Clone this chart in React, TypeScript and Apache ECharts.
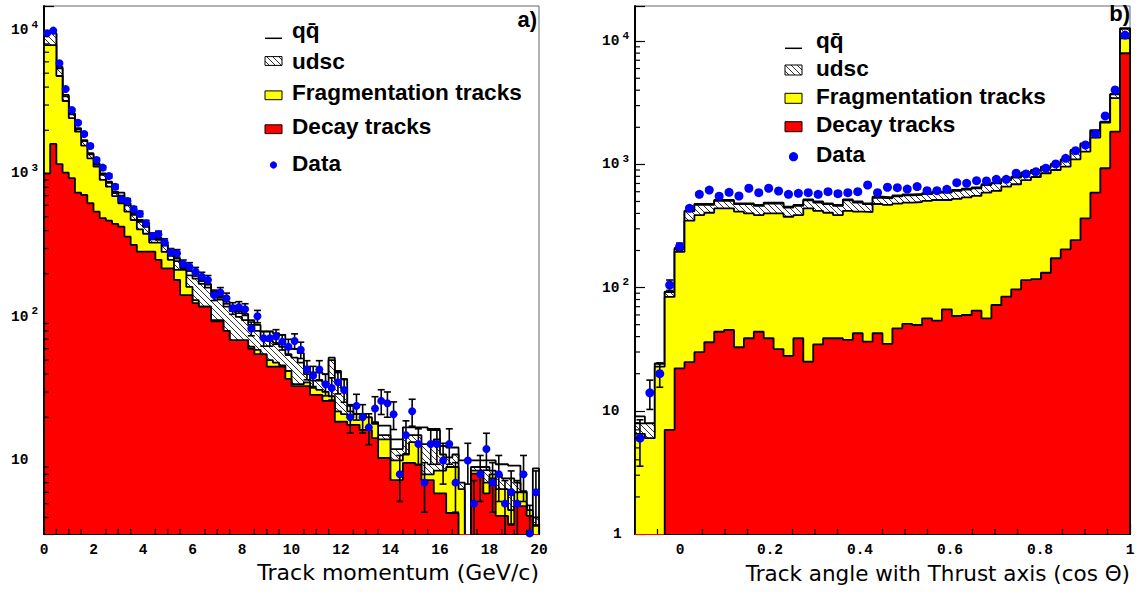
import React, { useEffect, useRef } from "react";
import * as echarts from "echarts";

// ---------------- Panel a) : track momentum, 80 bins of 0.25 GeV/c ----------------
const MOM_START = 0;
const MOM_BIN = 0.25;
const MOM_Y_MIN = 3.07;
const MOM_Y_MAX = 14700;

const MOM_QQ = [
  9530, 9500, 5540, 3525, 2630, 2066, 1710, 1383, 1177, 1003,
  877, 746, 735, 620, 528, 474, 440, 365, 355, 330,
  290, 255, 228, 210, 200, 180, 170, 150, 140, 128,
  120, 110, 105, 95, 88, 79, 79, 77, 75, 61,
  60, 56, 45, 41, 41, 40, 52, 42, 37, 24,
  21, 21, 18.5, 18.5, 17.5, 17.5, 14, 14, 17, 17,
  17, 17, 16.3, 16.3, 12.6, 12.3, 12.3, 10, 10, 10,
  10, 10, 10, 9.4, 9.4, 9.2, 9.2, 6.1, 4.1, 8.8,
];
const MOM_UDSC = [
  9500, 9450, 5400, 3450, 2580, 2030, 1680, 1360, 1150, 980,
  860, 730, 700, 600, 515, 460, 425, 350, 345, 318,
  280, 245, 220, 195, 185, 170, 160, 140, 132, 118,
  110, 100, 95, 88, 80, 70, 68, 66, 62, 55,
  52, 48, 40, 36, 36, 34, 50, 36, 32, 22,
  19, 19, 17, 16, 15, 15, 12, 12, 15, 15,
  15, 13, 13, 14, 11, 10.5, 11, 7, 3, 9,
  9, 9, 8.5, 8, 7.5, 7.5, 7, 5, 3.5, 4,
];
const MOM_FRAG = [
  7850, 7850, 4780, 3200, 2430, 1955, 1563, 1276, 1115, 902,
  809, 696, 620, 542, 474, 408, 380, 330, 330, 284,
  250, 213, 213, 162, 131, 118, 118, 95, 95, 80,
  67, 67, 67, 62, 59, 50, 50, 48, 46, 42,
  34, 34, 35, 32, 31, 30, 28, 22, 21, 20,
  21, 21, 20, 18, 14, 14, 10, 10, 11, 13.4,
  13.4, 8, 8, 8.5, 8.5, 9, 9, 6.3, 1, 8.5,
  8.5, 7, 8, 6.3, 6.3, 4.5, 6, 6, 4.5, 3.5,
];
const MOM_DECAY = [
  1000, 1607, 1163, 1013, 927, 735, 708, 620, 542, 488,
  469, 445, 426, 363, 318, 285, 285, 285, 250, 218,
  218, 181, 142, 142, 125, 118, 118, 93, 93, 80,
  69, 69, 69, 60, 55, 55, 45, 45, 45, 37,
  33, 33, 33, 28.6, 28.6, 26, 26, 18.6, 18.6, 17.7,
  17.7, 16.3, 16.3, 14.3, 10.4, 10.4, 7.3, 7.3, 9.6, 9.6,
  9.3, 7.3, 7.3, 5.9, 5.9, 4.3, 4.3, 1, 1, 8.1,
  8.1, 5.9, 7.5, 4.1, 4.1, 3.6, 4.8, 4.8, 4.1, 1,
];
const MOM_DATA: (number | null)[] = [
  9500, 9900, 5860, 3880, 2770, 2260, 1884, 1556, 1242, 1099,
  961, 809, 661, 643, 564, 523, 450, 366, 377, 332,
  283, 278, 234, 224, 207, 191, 181, 142, 148, 135,
  115, 117, 113, 83, 101, 71, 71, 73, 67, 62,
  68, 59, 43, 39, 43, 34, 32, 35, 31, 20,
  24, 20, 17, 23, 26, 25, 21, 8, 15, 22,
  13, 7, 13, 13, 10, 13, 7, null, 10, 5,
  8, 12, 7, 8, 5, 6, 5, 8, 3.1, 6,
];

// ---------------- Panel b) : cos(theta) w.r.t. thrust axis, 50 bins of 0.022 ----------------
const ANG_START = -0.1;
const ANG_BIN = 0.022;
const ANG_Y_MIN = 1;
const ANG_Y_MAX = 19300;

const ANG_QQ = [
  9, 7.9, 24.3, 92.6, 210, 421, 477, 477, 514, 514,
  483, 483, 468, 490, 490, 454, 468, 520, 500, 483,
  468, 520, 500, 483, 547, 540, 560, 570, 575, 585,
  600, 600, 620, 635, 650, 690, 710, 760, 794, 860,
  900, 958, 1010, 1100, 1309, 1483, 1900, 2222, 3726, 12730,
];
const ANG_UDSC = [
  7.9, 7.9, 24, 92, 205, 415, 470, 470, 505, 505,
  475, 475, 460, 480, 480, 445, 460, 510, 490, 475,
  460, 510, 490, 475, 535, 530, 550, 560, 565, 575,
  590, 590, 610, 625, 640, 680, 700, 745, 780, 845,
  885, 940, 990, 1080, 1290, 1460, 1870, 2200, 3700, 12600,
];
const ANG_FRAG = [
  6.5, 6, 22.8, 84, 195, 349, 388, 405, 440, 440,
  413, 400, 388, 400, 400, 376, 388, 440, 420, 405,
  388, 420, 413, 410, 477, 470, 480, 490, 495, 505,
  514, 514, 525, 540, 555, 590, 610, 660, 690, 745,
  790, 847, 900, 960, 1099, 1268, 1650, 2180, 3444, 10550,
];
const ANG_DECAY = [
  0, 0, 0, 7, 22.1, 24.8, 29.9, 36, 43.8, 45.3,
  32.8, 38.8, 43.8, 38.8, 31.7, 27.9, 38.8, 25, 34.6, 38.8,
  38.8, 37.6, 42.6, 36.4, 42.6, 34.9, 46.7, 50.7, 49.7, 56.3,
  53.9, 66.6, 58.8, 59.9, 65, 56.3, 72.2, 84.4, 96.8, 115,
  117, 132, 173, 204, 243, 365, 589, 930, 1844, 7980,
];
const ANG_DATA: (number | null)[] = [
  6, 14, 20, 105, 215, 440, 572, 619, 552, 593,
  554, 640, 589, 640, 608, 572, 582, 589, 572, 601,
  578, 589, 600, 680, 589, 652, 647, 631, 660, 612,
  612, 628, 711, 702, 738, 733, 757, 757, 847, 836,
  873, 930, 1007, 1120, 1292, 1437, 1766, 2472, 4018, 11220,
];

// ---------------- Texts ----------------
const LEGEND_LABELS = ["qq\u0304", "udsc", "Fragmentation tracks", "Decay tracks", "Data"];
const PANEL_TAGS = ["a)", "b)"];
const X_TITLES = ["Track momentum (GeV/c)", "Track angle with Thrust axis (cos \u0398)"];

// ---------------- Helpers ----------------
const FLOOR = 1e-3;
const HATCH_SVG =
  "<svg xmlns='http://www.w3.org/2000/svg' width='6' height='6'>" +
  "<rect width='6' height='6' fill='white'/>" +
  "<path d='M0,0 L6,6 M-1,5 L1,7 M5,-1 L7,1' stroke='black' stroke-width='0.8'/></svg>";
const HATCH = {
  image: "data:image/svg+xml;charset=utf-8," + encodeURIComponent(HATCH_SVG),
  repeat: "repeat",
  imageWidth: 6,
  imageHeight: 6,
};

function stepPoints(start: number, w: number, vals: number[]) {
  const pts: number[][] = [[start, FLOOR]];
  vals.forEach((v, i) => {
    const y = v > 0 ? v : FLOOR;
    pts.push([start + i * w, y], [start + (i + 1) * w, y]);
  });
  pts.push([start + vals.length * w, FLOOR]);
  return pts;
}
function centers(start: number, w: number, vals: (number | null)[]) {
  const out: number[][] = [];
  vals.forEach((v, i) => {
    if (v != null) out.push([start + (i + 0.5) * w, v]);
  });
  return out;
}
function errBars(start: number, w: number, vals: (number | null)[]) {
  const out: number[][] = [];
  vals.forEach((v, i) => {
    if (v == null) return;
    const e = Math.sqrt(v);
    out.push([start + (i + 0.5) * w, v, v - e > 0 ? v - e : FLOOR, v + e]);
  });
  return out;
}
function logMinor(min: number, max: number) {
  const out: number[] = [];
  for (let k = -1; k <= 5; k++) {
    for (let m = 2; m <= 9; m++) {
      const v = m * Math.pow(10, k);
      if (v > min && v < max) out.push(v);
    }
  }
  return out;
}
function linMinor(from: number, to: number, step: number, major: number) {
  const out: number[] = [];
  const n = Math.round((to - from) / step);
  for (let i = 0; i <= n; i++) {
    const v = +(from + i * step).toFixed(4);
    const r = v / major;
    if (Math.abs(r - Math.round(r)) > 1e-6) out.push(v);
  }
  return out;
}

const MONO = "Liberation Mono";
const SANS = "Liberation Sans";

function logLabel(v: number) {
  const l = Math.log10(v);
  const e = Math.round(l);
  if (Math.abs(l - e) > 1e-6) return "";
  if (e === 0) return "{o|1}";
  if (e === 1) return "{b|10}";
  return "{b|10}{s|" + e + "}";
}
const logRich = {
  b: { fontFamily: MONO, fontWeight: "bold", fontSize: 14.5, color: "#000" },
  s: { fontFamily: MONO, fontWeight: "bold", fontSize: 11, color: "#000", padding: [0, 0, 11, 3] },
  o: { fontFamily: MONO, fontWeight: "bold", fontSize: 14.5, color: "#000", padding: [0, 0, 0, 11] },
};

function xAxisCfg(grid: number, min: number, max: number, extra: any) {
  return {
    type: "value",
    gridIndex: grid,
    min,
    max,
    axisLine: { show: true, onZero: false, lineStyle: { color: "#000", width: 2 } },
    axisTick: { show: true, inside: true, length: 10, lineStyle: { color: "#000", width: 1.2 } },
    axisLabel: { fontFamily: MONO, fontWeight: "bold", fontSize: 14.5, color: "#000", margin: 8 },
    splitLine: { show: false },
    ...extra,
  };
}
function yAxisCfg(grid: number, min: number, max: number) {
  return {
    type: "log",
    logBase: 10,
    gridIndex: grid,
    min,
    max,
    axisLine: { show: true, onZero: false, lineStyle: { color: "#000", width: 2 } },
    axisTick: { show: true, inside: true, length: 10, lineStyle: { color: "#000", width: 1.2 } },
    axisLabel: { formatter: logLabel, rich: logRich, align: "left", margin: 33 },
    splitLine: { show: false },
    minorTick: { show: false },
  };
}

function histSeries(grid: number, pts: number[][], fill: any, z: number) {
  return {
    type: "line",
    xAxisIndex: grid,
    yAxisIndex: grid,
    data: pts,
    showSymbol: false,
    symbol: "none",
    clip: true,
    silent: true,
    z,
    lineStyle: { color: "#000", width: 1.8 },
    areaStyle: { color: fill, opacity: 1, origin: "start" },
  };
}
function minorYSeries(grid: number, xmin: number, vals: number[]) {
  return {
    type: "custom",
    xAxisIndex: grid,
    yAxisIndex: grid,
    silent: true,
    z: 10,
    data: vals.map((v) => [xmin, v]),
    renderItem: (_p: any, api: any) => {
      const p = api.coord([api.value(0), api.value(1)]);
      return {
        type: "line",
        shape: { x1: p[0], y1: p[1], x2: p[0] + 5, y2: p[1] },
        style: { stroke: "#000", lineWidth: 1.2 },
      };
    },
  };
}
function minorXSeries(grid: number, ymin: number, vals: number[]) {
  return {
    type: "custom",
    xAxisIndex: grid,
    yAxisIndex: grid,
    silent: true,
    z: 10,
    data: vals.map((v) => [v, ymin]),
    renderItem: (_p: any, api: any) => {
      const p = api.coord([api.value(0), api.value(1)]);
      return {
        type: "line",
        shape: { x1: p[0], y1: p[1], x2: p[0], y2: p[1] - 5 },
        style: { stroke: "#000", lineWidth: 1.2 },
      };
    },
  };
}
function errSeries(grid: number, data: number[][]) {
  return {
    type: "custom",
    xAxisIndex: grid,
    yAxisIndex: grid,
    silent: true,
    clip: true,
    z: 6,
    data,
    renderItem: (_p: any, api: any) => {
      const x = api.value(0);
      const t = api.coord([x, api.value(3)]);
      const b = api.coord([x, api.value(2)]);
      const st = { stroke: "#000", lineWidth: 1.6 };
      return {
        type: "group",
        children: [
          { type: "line", shape: { x1: t[0], y1: t[1], x2: b[0], y2: b[1] }, style: st },
          { type: "line", shape: { x1: t[0] - 3.5, y1: t[1], x2: t[0] + 3.5, y2: t[1] }, style: st },
          { type: "line", shape: { x1: b[0] - 3.5, y1: b[1], x2: b[0] + 3.5, y2: b[1] }, style: st },
        ],
      };
    },
  };
}
function dataSeries(grid: number, data: number[][], size: number) {
  return {
    type: "scatter",
    xAxisIndex: grid,
    yAxisIndex: grid,
    data,
    symbol: "circle",
    symbolSize: size,
    silent: true,
    z: 7,
    itemStyle: { color: "#0000ff", opacity: 1 },
  };
}

function txt(x: number, y: number, text: string, font: string, align = "left") {
  return {
    type: "text",
    x,
    y,
    silent: true,
    z: 100,
    style: {
      text,
      font,
      fill: "#000",
      textAlign: align,
      align,
      textVerticalAlign: "middle",
      verticalAlign: "middle",
    },
  };
}
function legendGraphics(symX: number, textX: number, ys: number[], symYs: number[], boxH: number, dotR: number) {
  const f = "bold 22.6px '" + SANS + "'";
  const w = 17;
  const els: any[] = [];
  els.push({ type: "line", silent: true, z: 100, shape: { x1: symX, y1: symYs[0], x2: symX + w, y2: symYs[0] }, style: { stroke: "#000", lineWidth: 1.5 } });
  els.push({ type: "rect", silent: true, z: 100, shape: { x: symX, y: symYs[1] - boxH / 2, width: w, height: boxH }, style: { fill: HATCH, stroke: "#000", lineWidth: 1 } });
  els.push({ type: "rect", silent: true, z: 100, shape: { x: symX, y: symYs[2] - boxH / 2, width: w, height: boxH }, style: { fill: "#ffff00", stroke: "#000", lineWidth: 1 } });
  els.push({ type: "rect", silent: true, z: 100, shape: { x: symX, y: symYs[3] - boxH / 2, width: w, height: boxH }, style: { fill: "#ff0000", stroke: "#000", lineWidth: 1 } });
  els.push({ type: "circle", silent: true, z: 100, shape: { cx: symX + w / 2, cy: symYs[4], r: dotR }, style: { fill: "#0000ff" } });
  LEGEND_LABELS.forEach((t, i) => els.push(txt(textX, ys[i], t, f)));
  return els;
}

export default function App() {
  const ref = useRef<HTMLDivElement>(null);
  useEffect(() => {
    if (!ref.current) return;
    const chart = echarts.init(ref.current, undefined, { renderer: "svg" });
    const momEnd = MOM_START + MOM_QQ.length * MOM_BIN;
    const angEnd = ANG_START + ANG_QQ.length * ANG_BIN;

    const option: any = {
      animation: false,
      backgroundColor: "#fff",
      grid: [
        { left: 44, top: 6, width: 495, height: 528, show: true, borderColor: "#666", borderWidth: 1, backgroundColor: "transparent" },
        { left: 635, top: 6, width: 495, height: 528, show: true, borderColor: "#666", borderWidth: 1, backgroundColor: "transparent" },
      ],
      xAxis: [
        xAxisCfg(0, MOM_START, momEnd, { interval: 2 }),
        xAxisCfg(1, ANG_START, angEnd, {
          axisLabel: {
            fontFamily: MONO,
            fontWeight: "bold",
            fontSize: 14.5,
            color: "#000",
            margin: 8,
            formatter: (v: number) => (Math.abs(v - ANG_START) < 1e-9 ? "" : String(+v.toFixed(2))),
          },
        }),
      ],
      yAxis: [yAxisCfg(0, MOM_Y_MIN, MOM_Y_MAX), yAxisCfg(1, ANG_Y_MIN, ANG_Y_MAX)],
      series: [
        histSeries(0, stepPoints(MOM_START, MOM_BIN, MOM_QQ), "#ffffff", 2),
        histSeries(0, stepPoints(MOM_START, MOM_BIN, MOM_UDSC), HATCH, 3),
        histSeries(0, stepPoints(MOM_START, MOM_BIN, MOM_FRAG), "#ffff00", 4),
        histSeries(0, stepPoints(MOM_START, MOM_BIN, MOM_DECAY), "#ff0000", 5),
        errSeries(0, errBars(MOM_START, MOM_BIN, MOM_DATA)),
        dataSeries(0, centers(MOM_START, MOM_BIN, MOM_DATA), 8),
        minorYSeries(0, MOM_START, logMinor(MOM_Y_MIN, MOM_Y_MAX)),
        minorXSeries(0, MOM_Y_MIN, linMinor(MOM_START, momEnd, 0.5, 2)),

        histSeries(1, stepPoints(ANG_START, ANG_BIN, ANG_QQ), "#ffffff", 2),
        histSeries(1, stepPoints(ANG_START, ANG_BIN, ANG_UDSC), HATCH, 3),
        histSeries(1, stepPoints(ANG_START, ANG_BIN, ANG_FRAG), "#ffff00", 4),
        histSeries(1, stepPoints(ANG_START, ANG_BIN, ANG_DECAY), "#ff0000", 5),
        errSeries(1, errBars(ANG_START, ANG_BIN, ANG_DATA)),
        dataSeries(1, centers(ANG_START, ANG_BIN, ANG_DATA), 9),
        minorYSeries(1, ANG_START, logMinor(ANG_Y_MIN, ANG_Y_MAX)),
        minorXSeries(1, ANG_Y_MIN, linMinor(-0.05, 0.95, 0.05, 0.2)),
      ],
      graphic: [
        ...legendGraphics(265, 292, [30.5, 61, 92, 126, 163.5], [38.3, 61, 95.3, 129.2, 165], 8.8, 3.6),
        ...legendGraphics(785, 816, [40.5, 68.4, 96.5, 124.9, 154.9], [48.3, 70, 98.3, 126.7, 156.7], 10, 4.6),
        txt(537, 19.5, PANEL_TAGS[0], "bold 22px '" + SANS + "'", "right"),
        txt(1130, 13.5, PANEL_TAGS[1], "bold 22px '" + SANS + "'", "right"),
        txt(539, 572, X_TITLES[0], "22px 'DejaVu Sans'", "right"),
        txt(1130, 573, X_TITLES[1], "21.5px 'DejaVu Sans'", "right"),
      ],
    };
    chart.setOption(option);
    return () => chart.dispose();
  }, []);
  return (
    <div
      ref={ref}
      style={{ position: "absolute", left: 0, top: 0, width: 1140, height: 595, background: "#fff" }}
    />
  );
}
